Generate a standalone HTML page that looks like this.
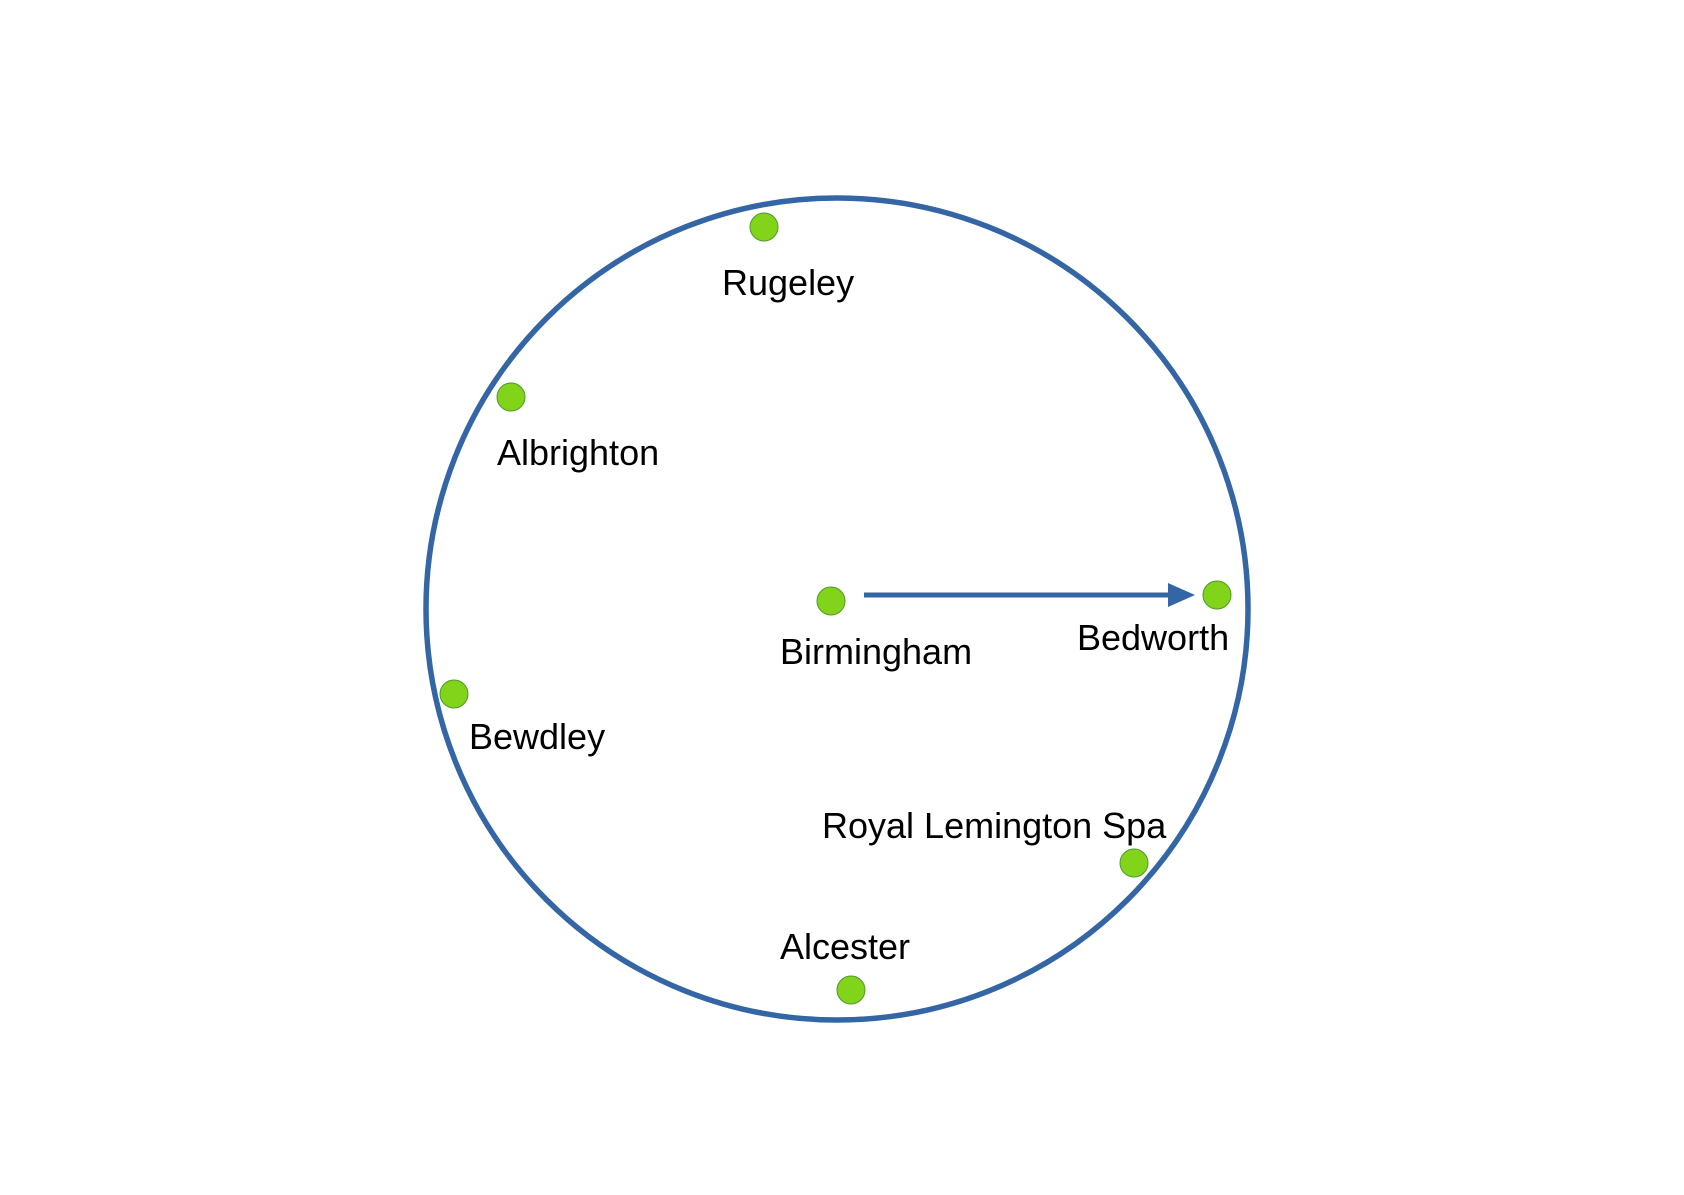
<!DOCTYPE html>
<html><head><meta charset="utf-8"><style>html,body{margin:0;padding:0;background:#fff}</style></head>
<body>
<svg width="1684" height="1190" viewBox="0 0 1684 1190" xmlns="http://www.w3.org/2000/svg">
<rect width="1684" height="1190" fill="#fff"/>
<circle cx="837" cy="609" r="411" fill="none" stroke="#3465a4" stroke-width="5.5"/>
<line x1="864" y1="595" x2="1172" y2="595" stroke="#3465a4" stroke-width="5"/>
<polygon points="1168,583 1195,595 1168,607" fill="#3465a4"/>
<g fill="#81d41a" stroke="#4e9a2a" stroke-width="1">
<circle cx="764" cy="227" r="14"/>
<circle cx="511" cy="397" r="14"/>
<circle cx="831" cy="601" r="14"/>
<circle cx="1217" cy="595" r="14"/>
<circle cx="454" cy="694" r="14"/>
<circle cx="1134" cy="863" r="14"/>
<circle cx="851" cy="990" r="14"/>
</g>
<g font-family="Liberation Sans, sans-serif" font-size="36" fill="#000">
<text x="722" y="295">Rugeley</text>
<text x="497" y="465">Albrighton</text>
<text x="780" y="664">Birmingham</text>
<text x="1077" y="650">Bedworth</text>
<text x="469" y="749">Bewdley</text>
<text x="822" y="838">Royal Lemington Spa</text>
<text x="780" y="959">Alcester</text>
</g>
</svg>
</body></html>
